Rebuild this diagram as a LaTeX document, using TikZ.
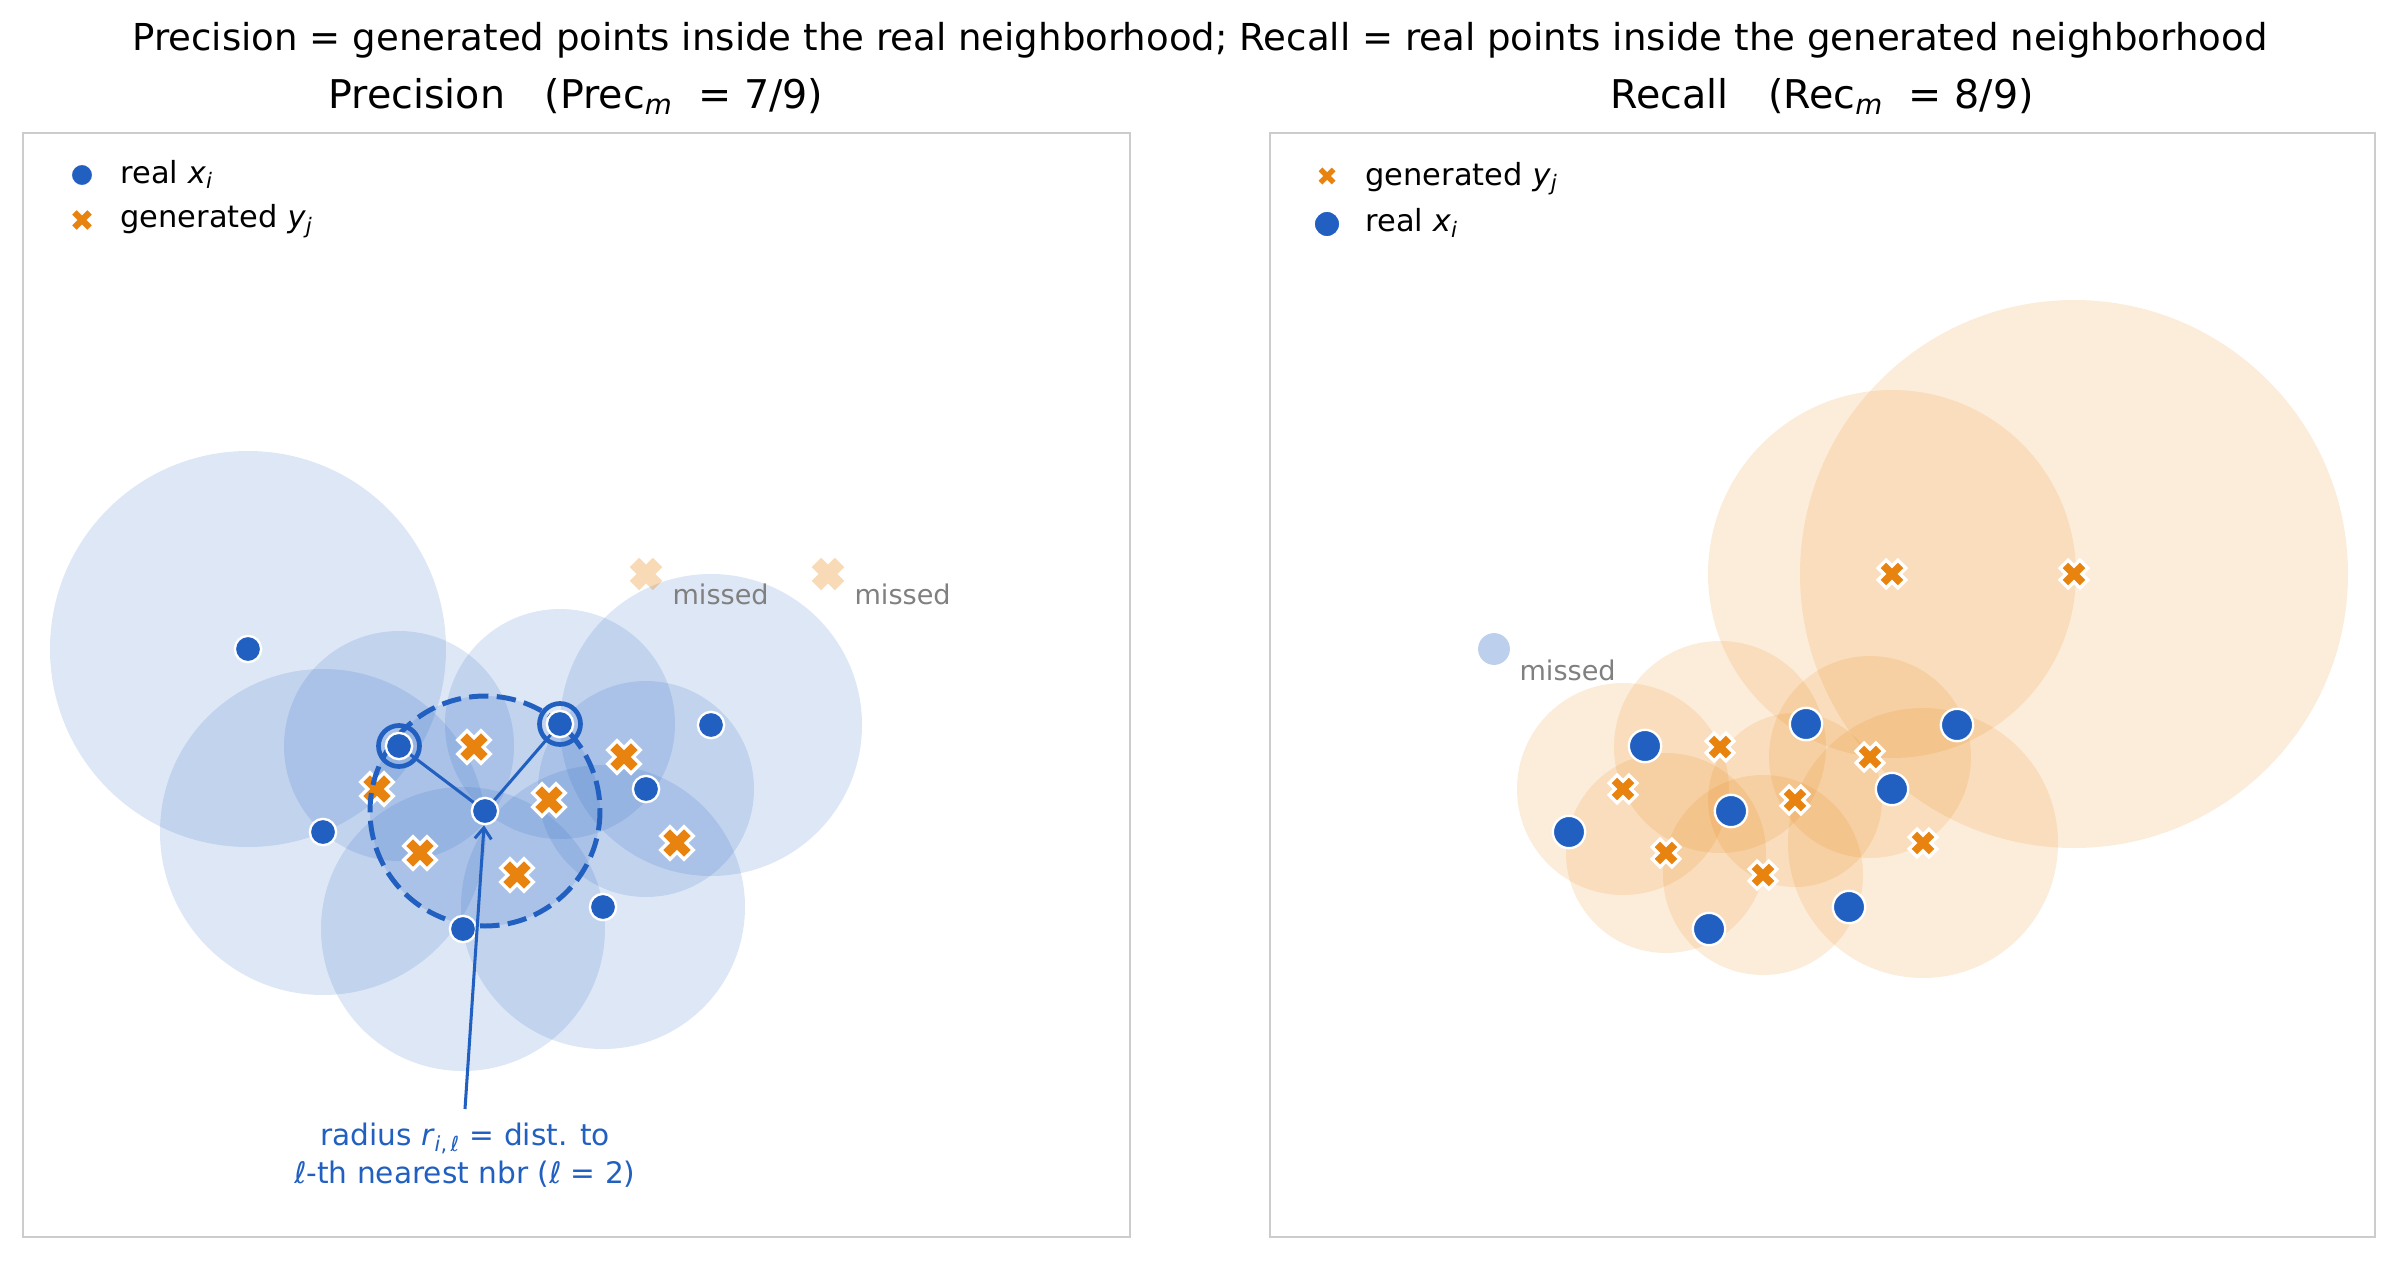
\documentclass[tikz,border=0pt]{standalone}
\usepackage{fontspec}
\setmainfont{DejaVu Sans}
\usetikzlibrary{arrows.meta}

\definecolor{realblue}{HTML}{2160C0}
\definecolor{genorange}{HTML}{E8830F}
\definecolor{framegray}{HTML}{CCCCCC}
\definecolor{missgray}{HTML}{808080}

% point data: name/x/y/radius (radius = distance to 2nd nearest neighbour)
\def\realpts{B/399/746/115, C/560/724/115, D/485/811/115, E/323/832/163, F/463/929/142, G/603/907/142, H/646/789/108, I/711/725/151}
\def\genpts{474/747/106, 377/789/106, 549/800/87, 624/757/101, 420/853/100, 517/875/100, 677/843/135}
\def\genfar{646/574/184, 828/574/274}

\tikzset{
  realdot/.style={circle, fill=realblue, draw=white, line width=0.85pt, inner sep=0pt, minimum size=9.5pt},
  realfill/.style={fill=realblue, fill opacity=0.15},
  genfill/.style={fill=genorange, fill opacity=0.15},
  kball/.style={draw=realblue, line width=1.8pt, dash pattern=on 7pt off 3pt},
  nbrline/.style={draw=realblue, line width=1.1pt},
  nbrring/.style={draw=realblue, line width=1.7pt},
  axframe/.style={draw=framegray, line width=0.8pt},
  paneltitle/.style={font=\fontsize{14.3}{17}\selectfont},
  legtext/.style={anchor=base west, font=\fontsize{11}{13}\selectfont, inner sep=0pt},
  misslabel/.style={anchor=base west, text=missgray, font=\fontsize{9.8}{12}\selectfont, inner sep=0pt},
  radnote/.style={align=center, text=realblue, anchor=north, inner xsep=2pt, inner ysep=5pt, font=\fontsize{10.7}{13.7}\selectfont},
  notearrow/.style={draw=realblue, line width=1.1pt, -{Straight Barb[length=4pt, width=6pt]}},
  genx/.pic={
    \filldraw[fill=genorange, draw=white, line width=1.2pt, rotate=45]
      (6.6,16.4) -- (6.6,6.6) -- (16.4,6.6) -- (16.4,-6.6) -- (6.6,-6.6) -- (6.6,-16.4)
      -- (-6.6,-16.4) -- (-6.6,-6.6) -- (-16.4,-6.6) -- (-16.4,6.6) -- (-6.6,6.6) -- (-6.6,16.4) -- cycle;
  },
  genxfaint/.pic={
    \fill[genorange, fill opacity=0.3, rotate=45]
      (6.6,16.4) -- (6.6,6.6) -- (16.4,6.6) -- (16.4,-6.6) -- (6.6,-6.6) -- (6.6,-16.4)
      -- (-6.6,-16.4) -- (-6.6,-6.6) -- (-16.4,-6.6) -- (-16.4,6.6) -- (-6.6,6.6) -- (-6.6,16.4) -- cycle;
  }
}

\begin{document}
\begin{tikzpicture}[x=0.0127cm, y=-0.0127cm]
  \useasboundingbox (0,0) rectangle (2400,1264);

  % titles
  \node[font=\fontsize{13.4}{16}\selectfont] (suptitle) at (1200,40)
    {Precision = generated points inside the real neighborhood; Recall = real points inside the generated neighborhood};
  \node[paneltitle] (prectitle) at (576,96) {Precision\quad(Prec\textsubscript{\textit{m}}\ \ = 7/9)};
  \node[paneltitle] (rectitle) at (1822,96) {Recall\quad(Rec\textsubscript{\textit{m}}\ \ = 8/9)};

  % axes frames
  \draw[axframe] (23,133) rectangle (1130,1237);
  \draw[axframe] (1270,133) rectangle (2375,1237);

  % ---- left panel: precision ----
  \coordinate (pA) at (248,649);
  \fill[realfill] (pA) circle[radius=198];
  \foreach \n/\x/\y/\r in \realpts {
    \fill[realfill] (\x,\y) circle[radius=\r];
    \coordinate (p\n) at (\x,\y);
  }
  \foreach \x/\y/\r in \genpts \pic at (\x,\y) {genx};
  \foreach \x/\y/\r in \genfar \pic at (\x,\y) {genxfaint};

  \draw[kball] (pD) circle[radius=115];
  \draw[nbrline] (pD) -- (pB);
  \draw[nbrline] (pD) -- (pC);
  \node[realdot] (xA) at (pA) {};
  \foreach \n/\x/\y/\r in \realpts \node[realdot] (x\n) at (p\n) {};
  \draw[nbrring] (pB) circle[radius=20.5];
  \draw[nbrring] (pC) circle[radius=20.5];

  \node[misslabel] (miss1) at (672,604) {missed};
  \node[misslabel] (miss2) at (854,604) {missed};

  \node[radnote] (note) at (465,1109)
    {radius \textit{r}\textsubscript{\textit{i},\,\textit{ℓ}} = dist. to\\\textit{ℓ}-th nearest nbr (\textit{ℓ} = 2)};
  \draw[notearrow] (note.north) -- (xD);

  % legend
  \node[realdot, minimum size=8.1pt] (legdot) at (82,175) {};
  \node[legtext] (legreal) at (120,183) {real \textit{x}\textsubscript{\textit{i}}};
  \pic[scale=0.76] at (82,220) {genx};
  \node[legtext] (leggen) at (120,227.6) {generated \textit{y}\textsubscript{\textit{j}}};

  % ---- right panel: recall ----
  \begin{scope}[shift={(1246,0)}]
    \foreach \x/\y/\r in \genpts \fill[genfill] (\x,\y) circle[radius=\r];
    \foreach \x/\y/\r in \genfar \fill[genfill] (\x,\y) circle[radius=\r];
    \foreach \n/\x/\y/\r in \realpts \node[realdot, minimum size=11.7pt] (q\n) at (\x,\y) {};
    \foreach \x/\y/\r in \genpts \pic[scale=0.85] at (\x,\y) {genx};
    \foreach \x/\y/\r in \genfar \pic[scale=0.85] at (\x,\y) {genx};
    \node[realdot, draw=none, fill opacity=0.3, minimum size=11.5pt] (qA) at (248,649) {};
    \node[misslabel] (miss3) at (273,680) {missed};
  \end{scope}

  % legend
  \pic[scale=0.68] at (1327,176) {genx};
  \node[legtext] (rleggen) at (1365,185) {generated \textit{y}\textsubscript{\textit{j}}};
  \node[realdot, minimum size=9.6pt] (rlegdot) at (1327,224) {};
  \node[legtext] (rlegreal) at (1365,231.7) {real \textit{x}\textsubscript{\textit{i}}};
\end{tikzpicture}
\end{document}
